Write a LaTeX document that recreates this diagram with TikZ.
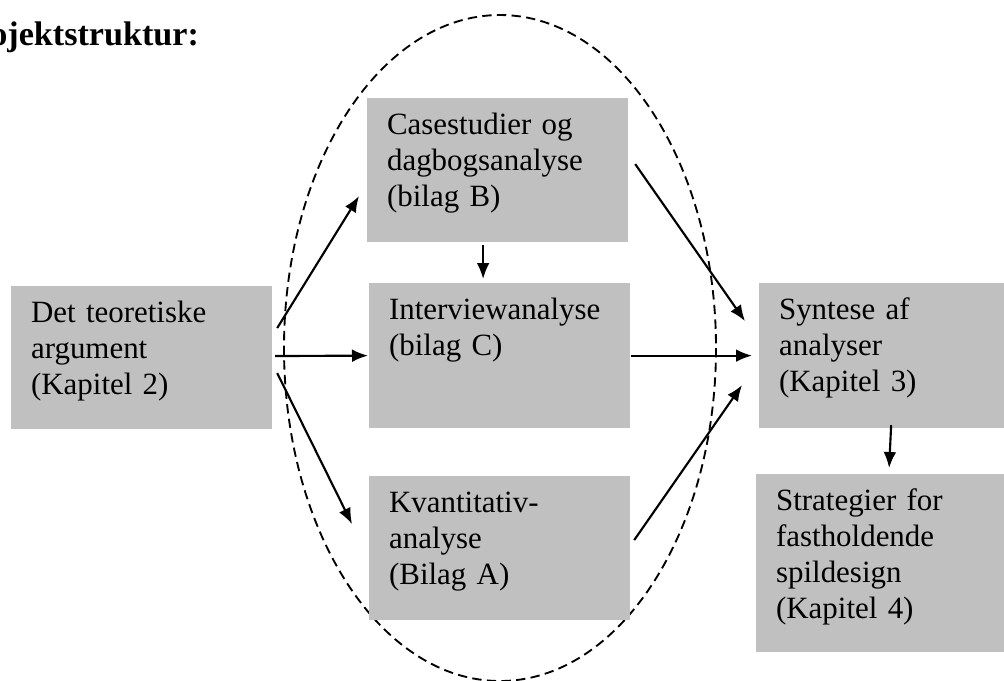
\documentclass[tikz,border=0pt]{standalone}
\usepackage{fontspec}
\setmainfont{Liberation Serif}
\usetikzlibrary{arrows.meta}
\definecolor{boxgray}{HTML}{C0C0C0}
\tikzset{
    box/.style={fill=boxgray,anchor=north west,inner sep=0pt},
    boxtext/.style={anchor=base west,inner sep=0pt,text width=90pt,align=left,
        font={\fontsize{11.6}{13.6}\selectfont}},
}
\begin{document}
\begin{tikzpicture}[x=0.375pt,y=-0.375pt,>={Latex[length=6pt,width=4.8pt]},line width=0.8pt]
        \useasboundingbox (0,0) rectangle (1004,680);
        \node [anchor=base east,inner sep=0pt,font={\bfseries\fontsize{12.8}{15}\selectfont}] (Titel) at (200,45) {Projektstruktur:};
        % dashed frame round the three analyses
        \draw [line width=0.7pt,dash pattern=on 3.5pt off 2pt] (500,348) ellipse [x radius=216, y radius=333];
        % boxes
        \node [box,minimum width=97.9pt,minimum height=53.6pt] (Teori) at (10,285) {};
        \node [box,minimum width=97.9pt,minimum height=54pt] (Case) at (366,97) {};
        \node [box,minimum width=97.9pt,minimum height=54.4pt] (Interview) at (368,282) {};
        \node [box,minimum width=97.9pt,minimum height=54pt] (Kvant) at (368,475) {};
        \node [box,minimum width=92.3pt,minimum height=54.4pt] (Syntese) at (758,282) {};
        \node [box,minimum width=93.4pt,minimum height=66.8pt] (Strategi) at (755,473) {};
        % texts
        \node [boxtext] (TeoriTxt) at ([shift={(20,37)}]Teori.north west) {Det teoretiske\\argument\\(Kapitel 2)};
        \node [boxtext] (CaseTxt) at ([shift={(20,37)}]Case.north west) {Casestudier og\\dagbogsanalyse\\(bilag B)};
        \node [boxtext] (InterviewTxt) at ([shift={(20,37)}]Interview.north west) {Interviewanalyse\\(bilag C)};
        \node [boxtext] (KvantTxt) at ([shift={(20,37)}]Kvant.north west) {Kvantitativ-\\analyse\\(Bilag A)};
        \node [boxtext] (SynteseTxt) at ([shift={(20,37)}]Syntese.north west) {Syntese af\\analyser\\(Kapitel 3)};
        \node [boxtext] (StrategiTxt) at ([shift={(20,37)}]Strategi.north west) {Strategier for\\fastholdende\\spildesign\\(Kapitel 4)};
        % arrows
        \draw [->] ([shift={(4,-29.5)}]Teori.east) -- ([shift={(-7,26)}]Case.west);
        \draw [->] ([shift={(2,-1.5)}]Teori.east) -- (Interview.west);
        \draw [->] ([shift={(4,15.5)}]Teori.east) -- ([shift={(-16,-24)}]Kvant.west);
        \draw [->] ([shift={(-14.5,2)}]Case.south) -- ([shift={(-16.5,-3)}]Interview.north);
        \draw [->] ([shift={(6,-6)}]Case.east) -- ([shift={(-13,-34.5)}]Syntese.west);
        \draw [->] (Interview.east) -- ([shift={(-6,0)}]Syntese.west);
        \draw [->] ([shift={(3,-8)}]Kvant.east) -- ([shift={(-16,29.5)}]Syntese.west);
        \draw [->] ([shift={(9,-4)}]Syntese.south) -- ([shift={(8.5,-5)}]Strategi.north);
    \end{tikzpicture}
\end{document}
